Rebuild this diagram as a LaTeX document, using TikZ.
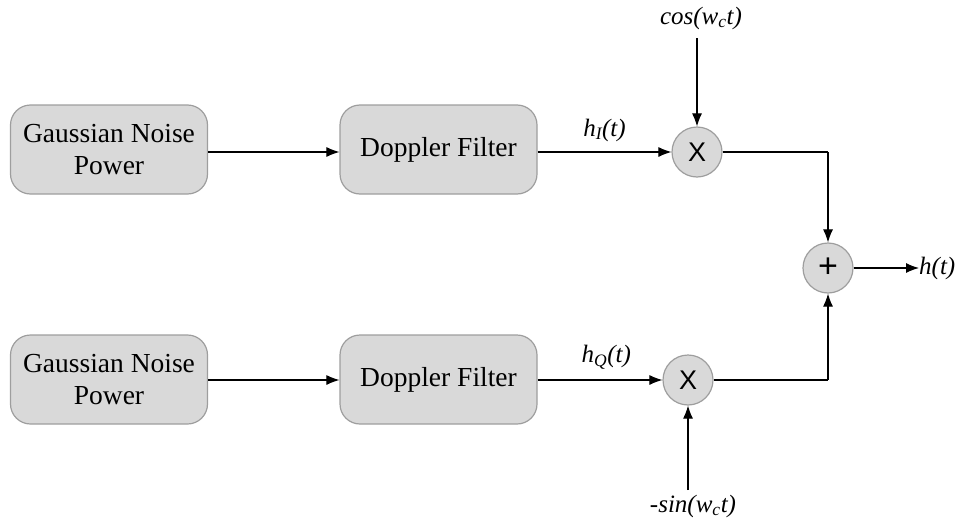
\documentclass[tikz,border=0pt]{standalone}
\usepackage{fontspec}
\setmainfont{Liberation Serif}
\newfontfamily\glyphfont{Liberation Sans}
\usetikzlibrary{arrows.meta}
\begin{document}
\begin{tikzpicture}[x=1pt,y=-1pt,
  blockbox/.style={draw=black!38, line width=1.2pt, fill=black!15, rounded corners=20pt,
    minimum width=197pt, minimum height=89pt, align=center,
    font=\fontsize{27.5}{32}\selectfont},
  opcircle/.style={circle, draw=black!38, line width=1.2pt, fill=black!15,
    minimum size=50pt, inner sep=0pt, font=\glyphfont\fontsize{27}{27}\selectfont},
  sig/.style={line width=1.1pt, -{Latex[length=13pt,width=10pt]}},
  wire/.style={line width=1.1pt},
  lbl/.style={font=\fontsize{25}{28}\selectfont\itshape, inner sep=0pt}]
\useasboundingbox (0,0) rectangle (972,522);

% upper (in-phase) branch
\node[blockbox] (g1) at (109,149.5) {Gaussian Noise\\Power};
\node[blockbox] (d1) at (438.5,149.5) {Doppler Filter};
\node[opcircle] (m1) at (697,152) {X};

% lower (quadrature) branch
\node[blockbox] (g2) at (109,379.5) {Gaussian Noise\\Power};
\node[blockbox] (d2) at (438.5,379.5) {Doppler Filter};
\node[opcircle] (m2) at (688,380) {X};

% summing junction
\node[opcircle, font=\glyphfont\fontsize{34}{34}\selectfont] (s) at (828,268) {+};

% carrier inputs and output
\node[lbl] (cosl) at (701,18) {cos(w\textsubscript{c}t)};
\node[lbl] (sinl) at (693,506) {-sin(w\textsubscript{c}t)};
\node[lbl, anchor=west] (out) at (919,268) {h(t)};
\coordinate (c1) at (828,152);
\coordinate (c2) at (828,380);

\draw[sig] (g1.east |- 0,152) -- (d1.west |- 0,152);
\draw[sig] (d1.east |- m1) -- node[lbl, above=10pt, pos=0.5] {h\textsubscript{I}(t)} (m1.west);
\draw[sig] (m1 |- 0,38) -- (m1.north);

\draw[sig] (g2.east |- 0,380) -- (d2.west |- 0,380);
\draw[sig] (d2.east |- m2) -- node[lbl, above=10pt, pos=0.55] {h\textsubscript{Q}(t)} (m2.west);
\draw[sig] (m2 |- 0,490) -- (m2.south);

\draw[wire] (m1.east) -- (c1);
\draw[sig] (c1) -- (s.north);
\draw[wire] (m2.east) -- (c2);
\draw[sig] (c2) -- (s.south);
\draw[sig] (s.east) -- (out.west);
\end{tikzpicture}
\end{document}
